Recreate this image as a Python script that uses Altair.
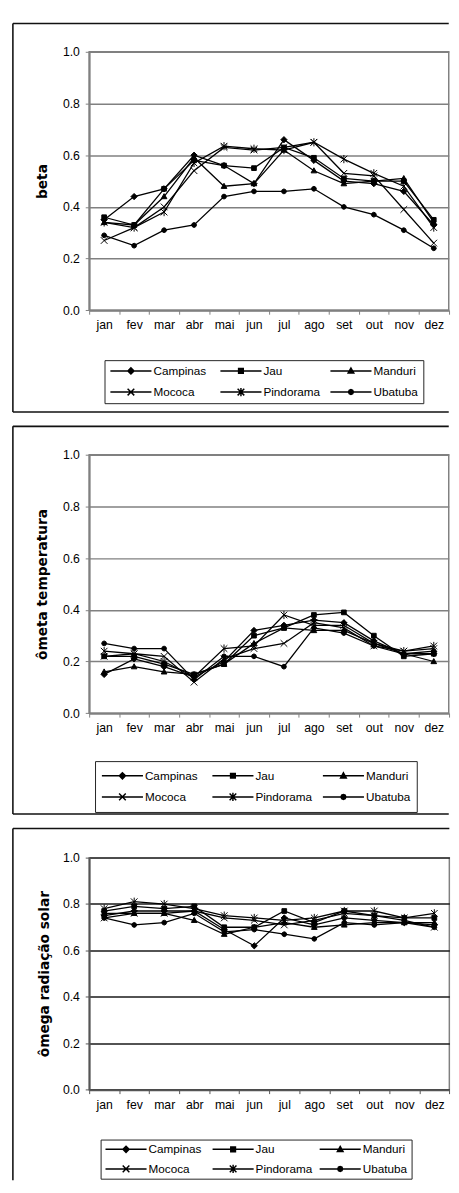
import altair as alt
import pandas as pd

months = ["jan", "fev", "mar", "abr", "mai", "jun", "jul", "ago", "set", "out", "nov", "dez"]
stations = ["Campinas", "Jau", "Manduri", "Mococa", "Pindorama", "Ubatuba"]

beta_campinas = [0.35, 0.44, 0.47, 0.60, 0.56, 0.49, 0.66, 0.58, 0.50, 0.49, 0.46, 0.33]
beta_jau = [0.36, 0.33, 0.47, 0.58, 0.56, 0.55, 0.63, 0.59, 0.51, 0.50, 0.50, 0.35]
beta_manduri = [0.34, 0.33, 0.44, 0.59, 0.48, 0.49, 0.62, 0.54, 0.49, 0.50, 0.51, 0.34]
beta_mococa = [0.27, 0.32, 0.40, 0.54, 0.63, 0.62, 0.63, 0.65, 0.53, 0.52, 0.39, 0.26]
beta_pindorama = [0.34, 0.32, 0.38, 0.57, 0.635, 0.625, 0.62, 0.65, 0.585, 0.53, 0.48, 0.32]
beta_ubatuba = [0.29, 0.25, 0.31, 0.33, 0.44, 0.46, 0.46, 0.47, 0.40, 0.37, 0.31, 0.24]

temp_campinas = [0.15, 0.21, 0.18, 0.14, 0.20, 0.32, 0.34, 0.36, 0.35, 0.28, 0.23, 0.23]
temp_jau = [0.22, 0.22, 0.19, 0.15, 0.19, 0.30, 0.33, 0.38, 0.39, 0.30, 0.22, 0.23]
temp_manduri = [0.16, 0.18, 0.16, 0.15, 0.19, 0.27, 0.33, 0.32, 0.32, 0.27, 0.23, 0.20]
temp_mococa = [0.22, 0.23, 0.22, 0.12, 0.21, 0.25, 0.27, 0.35, 0.33, 0.26, 0.24, 0.25]
temp_pindorama = [0.24, 0.23, 0.20, 0.14, 0.25, 0.26, 0.38, 0.34, 0.34, 0.27, 0.24, 0.26]
temp_ubatuba = [0.27, 0.25, 0.25, 0.13, 0.22, 0.22, 0.18, 0.33, 0.31, 0.26, 0.23, 0.24]

rad_campinas = [0.75, 0.77, 0.77, 0.77, 0.69, 0.62, 0.74, 0.71, 0.74, 0.73, 0.72, 0.71]
rad_jau = [0.77, 0.79, 0.78, 0.79, 0.70, 0.70, 0.77, 0.72, 0.77, 0.75, 0.74, 0.74]
rad_manduri = [0.76, 0.76, 0.76, 0.73, 0.67, 0.70, 0.72, 0.70, 0.71, 0.72, 0.72, 0.72]
rad_mococa = [0.74, 0.76, 0.76, 0.77, 0.74, 0.73, 0.71, 0.73, 0.76, 0.75, 0.73, 0.70]
rad_pindorama = [0.78, 0.81, 0.80, 0.78, 0.75, 0.74, 0.73, 0.74, 0.77, 0.77, 0.74, 0.76]
rad_ubatuba = [0.74, 0.71, 0.72, 0.76, 0.68, 0.69, 0.67, 0.65, 0.72, 0.71, 0.72, 0.70]

y_ticks = [0.0, 0.2, 0.4, 0.6, 0.8, 1.0]

PLOT_SHAPES = [
    "M-1.6,0L0,-1.6L1.6,0L0,1.6Z",
    "M-1.2,-1.2H1.2V1.2H-1.2Z",
    "M0,-1.5L1.45,1.1H-1.45Z",
    "M-1.7,-1.7L1.7,1.7M-1.7,1.7L1.7,-1.7",
    "M-1.7,-1.7L1.7,1.7M-1.7,1.7L1.7,-1.7M0,-2.1V2.1",
    "M1.25,0L0.88,0.88L0,1.25L-0.88,0.88L-1.25,0L-0.88,-0.88L0,-1.25L0.88,-0.88Z",
]
LEG_SHAPES = [
    "M-1,0H1M-0.15,0L0,-0.15L0.15,0L0,0.15Z",
    "M-1,0H1M-0.114,-0.114H0.114V0.114H-0.114Z",
    "M-1,0H1M0,-0.143L0.138,0.105H-0.138Z",
    "M-1,0H1M-0.162,-0.162L0.162,0.162M-0.162,0.162L0.162,-0.162",
    "M-1,0H1M-0.162,-0.162L0.162,0.162M-0.162,0.162L0.162,-0.162M0,-0.2V0.2",
    "M-1,0H1M0.119,0L0.084,0.084L0,0.119L-0.084,0.084L-0.119,0L-0.084,-0.084L0,-0.119L0.084,-0.084Z",
]
LEG_STROKES = ["black"] * 6

LABEL_FONT = "Liberation Sans"
TITLE_FONT = "DejaVu Sans"


def long_df(series):
    rows = []
    for st, vals in zip(stations, series):
        for m, v in zip(months, vals):
            rows.append({"mes": m, "estacao": st, "estacao_leg": st, "valor": v})
    return pd.DataFrame(rows)


def panel(df, title, w, h, box_left, box_top, box_bottom, title_pad, grid_color,
          axis_color, legend_x, legend_y, col_pad, leg_pad, clip_h, row_pad,
          draw_bottom=True, extra_top=0):
    x = alt.X(
        "mes:N",
        sort=months,
        bandPosition=0.5,
        scale=alt.Scale(type="band", domain=months, paddingInner=0, paddingOuter=0),
        axis=alt.Axis(
            title=None, labelAngle=0, tickBand="extent", grid=False,
            domainColor=axis_color, domainWidth=2, tickColor=axis_color,
            tickSize=4, tickWidth=1, labelFont=LABEL_FONT, labelFontSize=12.5,
            labelColor="black", labelPadding=5,
        ),
    )
    y = alt.Y(
        "valor:Q",
        scale=alt.Scale(domain=[0, 1], nice=False, zero=True),
        axis=alt.Axis(
            values=y_ticks, format=".1f", title=title, grid=True,
            gridColor=grid_color, gridWidth=1.5,
            domainColor=axis_color, domainWidth=2, tickColor=axis_color,
            tickSize=4, tickWidth=1, labelFont=LABEL_FONT, labelFontSize=12.5,
            labelColor="black", labelPadding=6,
            titleFont=TITLE_FONT, titleFontSize=14, titleFontWeight="bold",
            titleColor="black", titlePadding=title_pad,
        ),
    )
    base = alt.Chart(df)
    lines = base.mark_line(color="black", strokeWidth=1.3).encode(
        x=x, y=y, detail="estacao:N"
    )
    pts = base.mark_point(
        filled=True, fill="black", stroke="black", strokeWidth=1, size=16, opacity=1
    ).encode(
        x=x, y=y,
        shape=alt.Shape("estacao:N", scale=alt.Scale(domain=stations, range=PLOT_SHAPES), legend=None),
    )
    legend = alt.Legend(
        title=None, orient="none", legendX=legend_x, legendY=legend_y,
        columns=3, direction="horizontal", gridAlign="all",
        symbolSize=1764, symbolStrokeWidth=1.5,
        symbolFillColor="black", symbolOpacity=1,
        labelFont=LABEL_FONT, labelFontSize=12, labelColor="black",
        labelOffset=1, clipHeight=clip_h, rowPadding=row_pad,
        columnPadding=col_pad, padding=leg_pad,
        strokeColor="#222222", fillColor="white",
    )
    leg = base.transform_filter("false").mark_point(
        filled=True, fill="black", strokeWidth=1.5
    ).encode(
        x=x, y=y,
        shape=alt.Shape("estacao_leg:N", scale=alt.Scale(domain=stations, range=LEG_SHAPES), legend=legend),
        stroke=alt.Stroke("estacao_leg:N", scale=alt.Scale(domain=stations, range=LEG_STROKES), legend=legend),
    )
    d0 = pd.DataFrame({"k": [0]})
    r = alt.Chart(d0).mark_rule(color="#111111", strokeWidth=1.6)
    rules = [
        r.encode(x=alt.value(box_left), x2=alt.value(w), y=alt.value(box_top)),
        r.encode(x=alt.value(box_left), y=alt.value(box_top), y2=alt.value(box_bottom)),
    ]
    if draw_bottom:
        rules.append(r.encode(x=alt.value(box_left), x2=alt.value(w), y=alt.value(box_bottom)))
    if extra_top:
        rules.append(
            alt.Chart(d0).mark_rule(strokeOpacity=0).encode(
                x=alt.value(0), x2=alt.value(10), y=alt.value(box_top - extra_top)
            )
        )
    return (
        alt.layer(lines, pts, leg, *rules)
        .resolve_scale(shape="independent", stroke="independent")
        .resolve_legend(shape="independent", stroke="independent")
        .properties(width=w, height=h)
    )


df_beta = long_df([beta_campinas, beta_jau, beta_manduri, beta_mococa, beta_pindorama, beta_ubatuba])
df_temp = long_df([temp_campinas, temp_jau, temp_manduri, temp_mococa, temp_pindorama, temp_ubatuba])
df_rad = long_df([rad_campinas, rad_jau, rad_manduri, rad_mococa, rad_pindorama, rad_ubatuba])

p1 = panel(df_beta, "beta", 367.7, 264.3, -78, -29, 368.3, 13, "#808080", "#808080",
           15.7, 315.3, 8.5, 5, 12, 9.6)
p2 = panel(df_temp, "ômeta temperatura", 367.7, 264.3, -78, -29, 367.3, 13, "#808080", "#808080",
           6, 313.3, 9, 6, 18, 3.6)
p3 = panel(df_rad, "ômega radiação solar", 368.3, 237.3, -78, -29.7, 330, 11, "#1a1a1a", "#555555",
           11.7, 288.3, 5.5, 4, 12, 8, draw_bottom=False, extra_top=1.5)

chart = (
    alt.vconcat(p1, p2, p3, spacing=11)
    .resolve_scale(shape="independent", stroke="independent")
    .resolve_legend(shape="independent", stroke="independent")
    .configure(padding={"left": 3, "top": 0.5, "right": 0, "bottom": -8}, background="white")
    .configure_view(stroke="#808080", strokeWidth=1.5)
)

chart.save("out.html", embed_options={"renderer": "svg", "actions": False})
